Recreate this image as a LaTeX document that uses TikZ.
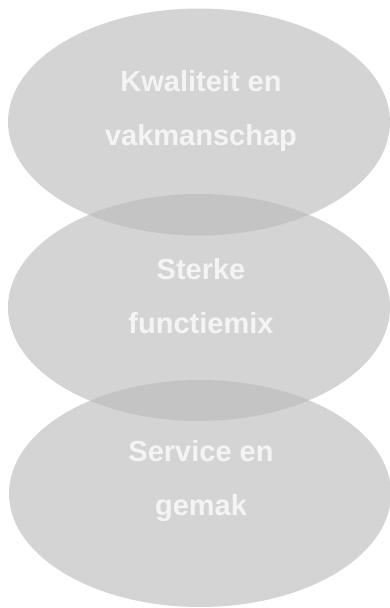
\documentclass[tikz,border=0pt]{standalone}
\usepackage{fontspec}
\setmainfont{Liberation Sans}
\usetikzlibrary{shapes.geometric}
\definecolor{bubble}{HTML}{BBBBBB}
\definecolor{bubbletext}{HTML}{F4F4F4}
\tikzset{
  bubble/.style={ellipse, draw=none, fill=bubble, fill opacity=0.63, inner sep=0pt,
    minimum width=382pt, minimum height=227pt},
  caption/.style={text=bubbletext, font=\fontsize{29}{54}\selectfont\bfseries, align=center, inner sep=0pt}
}
\begin{document}
\begin{tikzpicture}[x=1pt,y=-1pt]
\useasboundingbox (0,0) rectangle (389,608);
\node[bubble] (e1) at (199,122) {};
\node[bubble] (e2) at (199,307.5) {};
\node[bubble] (e3) at (200,493.5) {};
\node[caption] (t1) at (201,111) {Kwaliteit en\\vakmanschap};
\node[caption] (t2) at (201,296) {Sterke\\functiemix};
\node[caption] (t3) at (201,481) {Service en\\gemak};
\end{tikzpicture}
\end{document}
